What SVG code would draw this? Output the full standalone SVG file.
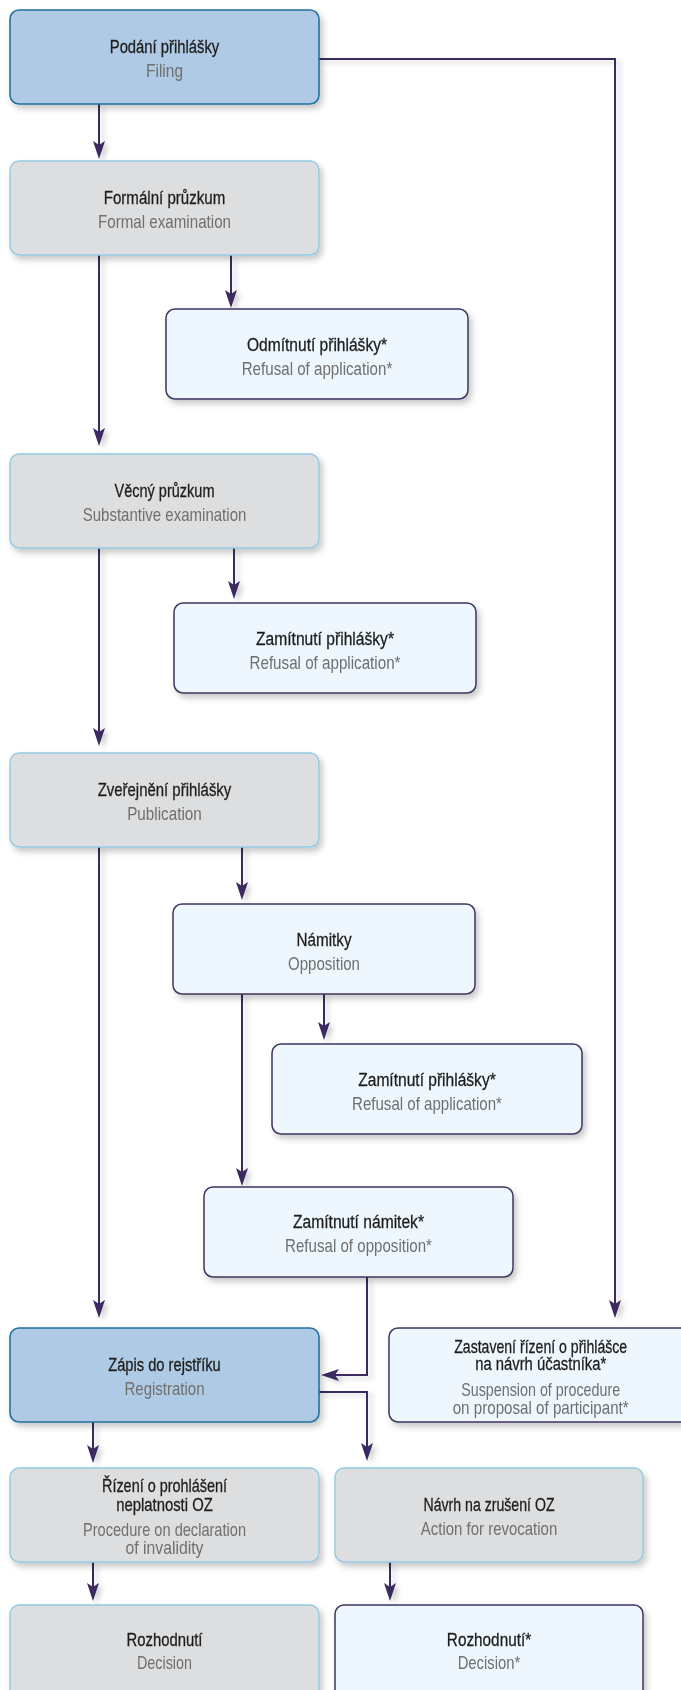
<svg xmlns="http://www.w3.org/2000/svg" width="681" height="1690" viewBox="0 0 681 1690">
<defs>
<filter id="sh" x="-10%" y="-10%" width="130%" height="140%">
<feDropShadow dx="3" dy="4" stdDeviation="3" flood-color="#000" flood-opacity="0.22"/>
</filter>
<filter id="lsh" x="-50%" y="-5%" width="300%" height="110%">
<feDropShadow dx="4" dy="3" stdDeviation="2.5" flood-color="#000" flood-opacity="0.18"/>
</filter>
<marker id="ah" viewBox="0 0 18 12" refX="12" refY="6" markerWidth="18" markerHeight="12" markerUnits="userSpaceOnUse" orient="auto">
<path d="M0,0 L18,6 L0,12 L4,6 Z" fill="#3a2a5e"/>
</marker>
</defs>
<style>
.blue{fill:#afcae4;stroke:#23709f;stroke-width:1.6}
.grey{fill:#dddee0;stroke:#93c9e3;stroke-width:1.4}
.light{fill:#eff7fe;stroke:#3f3560;stroke-width:1.5}
.t1{font-family:"Liberation Sans",Arial,sans-serif;font-size:19px;fill:#1d1d1b;stroke:#1d1d1b;stroke-width:0.3;text-anchor:middle}
.t2{font-family:"Liberation Sans",Arial,sans-serif;font-size:19px;fill:#6f6f6e;text-anchor:middle}
.c{fill:none;stroke:#3a2a5e;stroke-width:2;marker-end:url(#ah)}
</style>
<rect width="681" height="1690" fill="#ffffff"/>

<g id="connectors" filter="url(#lsh)">
<path class="c" d="M99,104 V153"/>
<path class="c" d="M319,59 H615 V1312"/>
<path class="c" d="M231,255 V302"/>
<path class="c" d="M99,255 V440"/>
<path class="c" d="M234,548 V593"/>
<path class="c" d="M99,548 V740"/>
<path class="c" d="M242,847 V894"/>
<path class="c" d="M324,994 V1034"/>
<path class="c" d="M242,994 V1180"/>
<path class="c" d="M367,1277 V1375 H327"/>
<path class="c" d="M99,847 V1312"/>
<path class="c" d="M319,1392 H367 V1455"/>
<path class="c" d="M93,1422 V1457"/>
<path class="c" d="M93,1562 V1595"/>
<path class="c" d="M390,1562 V1595"/>
</g>

<g id="n-filing" filter="url(#sh)">
<rect class="blue" x="10" y="10" width="309" height="94" rx="9"/>
<text class="t1" x="164.5" y="53" textLength="109.5" lengthAdjust="spacingAndGlyphs">Podání přihlášky</text>
<text class="t2" x="164.5" y="77" textLength="37" lengthAdjust="spacingAndGlyphs">Filing</text>
</g>

<g id="n-formal" filter="url(#sh)">
<rect class="grey" x="10" y="161" width="309" height="94" rx="9"/>
<text class="t1" x="164.5" y="204" textLength="121.6" lengthAdjust="spacingAndGlyphs">Formální průzkum</text>
<text class="t2" x="164.5" y="228" textLength="133" lengthAdjust="spacingAndGlyphs">Formal examination</text>
</g>

<g id="n-odmitnuti" filter="url(#sh)">
<rect class="light" x="166" y="309" width="302" height="90" rx="9"/>
<text class="t1" x="317" y="351" textLength="140" lengthAdjust="spacingAndGlyphs">Odmítnutí přihlášky*</text>
<text class="t2" x="317" y="375" textLength="150.6" lengthAdjust="spacingAndGlyphs">Refusal of application*</text>
</g>

<g id="n-vecny" filter="url(#sh)">
<rect class="grey" x="10" y="454" width="309" height="94" rx="9"/>
<text class="t1" x="164.5" y="497" textLength="100" lengthAdjust="spacingAndGlyphs">Věcný průzkum</text>
<text class="t2" x="164.5" y="521" textLength="163.7" lengthAdjust="spacingAndGlyphs">Substantive examination</text>
</g>

<g id="n-zamitnuti1" filter="url(#sh)">
<rect class="light" x="174" y="603" width="302" height="90" rx="9"/>
<text class="t1" x="325" y="645" textLength="138" lengthAdjust="spacingAndGlyphs">Zamítnutí přihlášky*</text>
<text class="t2" x="325" y="669" textLength="151" lengthAdjust="spacingAndGlyphs">Refusal of application*</text>
</g>

<g id="n-zverejneni" filter="url(#sh)">
<rect class="grey" x="10" y="753" width="309" height="94" rx="9"/>
<text class="t1" x="164.5" y="796" textLength="133.6" lengthAdjust="spacingAndGlyphs">Zveřejnění přihlášky</text>
<text class="t2" x="164.5" y="820" textLength="74.7" lengthAdjust="spacingAndGlyphs">Publication</text>
</g>

<g id="n-namitky" filter="url(#sh)">
<rect class="light" x="173" y="904" width="302" height="90" rx="9"/>
<text class="t1" x="324" y="946" textLength="55" lengthAdjust="spacingAndGlyphs">Námitky</text>
<text class="t2" x="324" y="970" textLength="72" lengthAdjust="spacingAndGlyphs">Opposition</text>
</g>

<g id="n-zamitnuti2" filter="url(#sh)">
<rect class="light" x="272" y="1044" width="310" height="90" rx="9"/>
<text class="t1" x="427" y="1086" textLength="137.5" lengthAdjust="spacingAndGlyphs">Zamítnutí přihlášky*</text>
<text class="t2" x="427" y="1110" textLength="150" lengthAdjust="spacingAndGlyphs">Refusal of application*</text>
</g>

<g id="n-zamitnuti-namitek" filter="url(#sh)">
<rect class="light" x="204" y="1187" width="309" height="90" rx="9"/>
<text class="t1" x="358.5" y="1228" textLength="131" lengthAdjust="spacingAndGlyphs">Zamítnutí námitek*</text>
<text class="t2" x="358.5" y="1252" textLength="147" lengthAdjust="spacingAndGlyphs">Refusal of opposition*</text>
</g>

<g id="n-zapis" filter="url(#sh)">
<rect class="blue" x="10" y="1328" width="309" height="94" rx="9"/>
<text class="t1" x="164.5" y="1371" textLength="112.6" lengthAdjust="spacingAndGlyphs">Zápis do rejstříku</text>
<text class="t2" x="164.5" y="1395" textLength="80" lengthAdjust="spacingAndGlyphs">Registration</text>
</g>

<g id="n-zastaveni" filter="url(#sh)">
<rect class="light" x="389" y="1328" width="310" height="94" rx="9"/>
<text class="t1" x="540.7" y="1353" textLength="173" lengthAdjust="spacingAndGlyphs">Zastavení řízení o přihlášce</text>
<text class="t1" x="540.7" y="1370" textLength="131" lengthAdjust="spacingAndGlyphs">na návrh účastníka*</text>
<text class="t2" x="540.7" y="1396" textLength="159" lengthAdjust="spacingAndGlyphs">Suspension of procedure</text>
<text class="t2" x="540.7" y="1414" textLength="176" lengthAdjust="spacingAndGlyphs">on proposal of participant*</text>
</g>

<g id="n-rizeni" filter="url(#sh)">
<rect class="grey" x="10" y="1468" width="309" height="94" rx="9"/>
<text class="t1" x="164.5" y="1492" textLength="125" lengthAdjust="spacingAndGlyphs">Řízení o prohlášení</text>
<text class="t1" x="164.5" y="1511" textLength="96.7" lengthAdjust="spacingAndGlyphs">neplatnosti OZ</text>
<text class="t2" x="164.5" y="1536" textLength="163" lengthAdjust="spacingAndGlyphs">Procedure on declaration</text>
<text class="t2" x="164.5" y="1554" textLength="78" lengthAdjust="spacingAndGlyphs">of invalidity</text>
</g>

<g id="n-navrh" filter="url(#sh)">
<rect class="grey" x="335" y="1468" width="308" height="94" rx="9"/>
<text class="t1" x="489" y="1511" textLength="131" lengthAdjust="spacingAndGlyphs">Návrh na zrušení OZ</text>
<text class="t2" x="489" y="1535" textLength="136.5" lengthAdjust="spacingAndGlyphs">Action for revocation</text>
</g>

<g id="n-rozhodnuti" filter="url(#sh)">
<rect class="grey" x="10" y="1605" width="309" height="100" rx="9"/>
<text class="t1" x="164.5" y="1646" textLength="76" lengthAdjust="spacingAndGlyphs">Rozhodnutí</text>
<text class="t2" x="164.5" y="1669" textLength="55" lengthAdjust="spacingAndGlyphs">Decision</text>
</g>

<g id="n-rozhodnuti2" filter="url(#sh)">
<rect class="light" x="335" y="1605" width="308" height="100" rx="9"/>
<text class="t1" x="489" y="1646" textLength="84.3" lengthAdjust="spacingAndGlyphs">Rozhodnutí*</text>
<text class="t2" x="489" y="1669" textLength="62.7" lengthAdjust="spacingAndGlyphs">Decision*</text>
</g>
</svg>
